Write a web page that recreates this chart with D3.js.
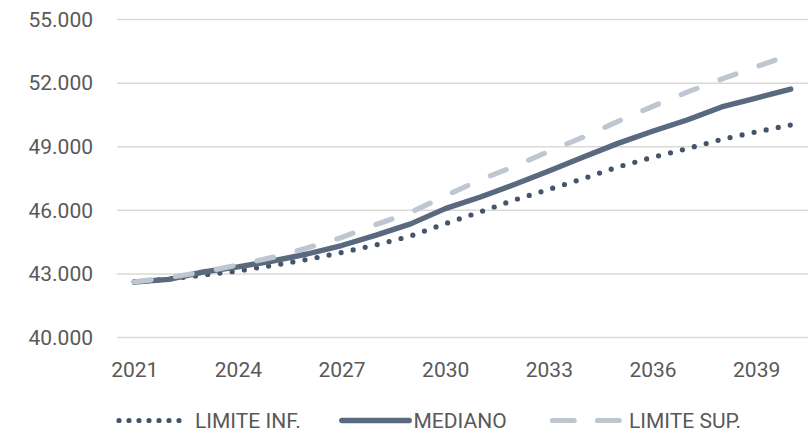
<!DOCTYPE html>
<html>
<head>
<meta charset="utf-8">
<script src="https://cdn.jsdelivr.net/npm/d3@7"></script>
<style>
  body { margin: 0; background: #fff; }
  text { font-family: Roboto, "Noto Sans", sans-serif; fill: #595959; }
</style>
</head>
<body>
<svg id="chart"></svg>
<script>
// values
const years = [2021, 2022, 2023, 2024, 2025, 2026, 2027, 2028, 2029, 2030,
               2031, 2032, 2033, 2034, 2035, 2036, 2037, 2038, 2039, 2040];
const limiteInf = [42620, 42760, 42950, 43140, 43400, 43680, 44010, 44370, 44790, 45370,
                   45920, 46490, 46990, 47500, 48050, 48500, 48910, 49350, 49700, 50030];
const mediano = [42620, 42740, 43090, 43330, 43610, 43940, 44340, 44830, 45360, 46080,
                 46620, 47220, 47860, 48520, 49160, 49730, 50260, 50880, 51300, 51720];
const limiteSup = [42620, 42830, 43090, 43420, 43780, 44220, 44720, 45330, 45900, 46680,
                   47430, 48070, 48780, 49460, 50200, 50900, 51580, 52190, 52780, 53330];
const yTicks = [40000, 43000, 46000, 49000, 52000, 55000];
const xTicks = [2021, 2024, 2027, 2030, 2033, 2036, 2039];
const seriesNames = ['LIMITE INF.', 'MEDIANO', 'LIMITE SUP.'];

const width = 811, height = 433;
const plot = { left: 117, right: 808, top: 19.6, bottom: 337.5 };

const svg = d3.select('#chart')
  .attr('width', width)
  .attr('height', height);

const locale = d3.formatLocale({ decimal: ',', thousands: '.', grouping: [3], currency: ['', ''] });
const fmt = locale.format(',.0f');

const x = d3.scalePoint()
  .domain(years)
  .range([plot.left, plot.right])
  .padding(0.5);

const y = d3.scaleLinear()
  .domain([40000, 55000])
  .range([plot.bottom, plot.top]);

// grid
svg.append('g')
  .selectAll('line')
  .data(yTicks)
  .enter()
  .append('line')
  .attr('x1', plot.left)
  .attr('x2', plot.right)
  .attr('y1', d => y(d))
  .attr('y2', d => y(d))
  .attr('stroke', '#d9d9d9')
  .attr('stroke-width', 1.5);

// y axis labels
const yAxis = svg.append('g')
  .attr('transform', `translate(${plot.left - 24},0)`)
  .call(d3.axisLeft(y).tickValues(yTicks).tickFormat(fmt).tickSize(0).tickPadding(0));
yAxis.select('.domain').remove();
yAxis.selectAll('text')
  .style('font-size', '21px')
  .attr('fill', '#595959');

// x axis labels
const xAxis = svg.append('g')
  .attr('transform', `translate(0,${plot.bottom})`)
  .call(d3.axisBottom(x).tickValues(xTicks).tickSize(0).tickPadding(0));
xAxis.select('.domain').remove();
xAxis.selectAll('text')
  .style('font-size', '21px')
  .attr('fill', '#595959')
  .attr('dy', null)
  .attr('y', 39.2);

const line = d3.line()
  .x((d, i) => x(years[i]))
  .y(d => y(d));

const styles = [
  { data: limiteInf, color: '#44546a', w: 5.2, dash: '0 12.3', legendDash: '0 10' },
  { data: mediano, color: '#5a6a7e', w: 5.4, dash: null, legendDash: null },
  { data: limiteSup, color: '#bec7d1', w: 5.2, dash: '17 24.5', legendDash: '21.7 23.3' }
];

styles.forEach(s => {
  svg.append('path')
    .datum(s.data)
    .attr('d', line)
    .attr('fill', 'none')
    .attr('stroke', s.color)
    .attr('stroke-width', s.w)
    .attr('stroke-linecap', 'round')
    .attr('stroke-linejoin', 'round')
    .attr('stroke-dasharray', s.dash);
});

// legend
const legendItems = [
  { x1: 119, x2: 180, tx: 195 },
  { x1: 341.8, x2: 409.2, tx: 413.5 },
  { x1: 552.5, x2: 619.2, tx: 629 }
];
const legend = svg.append('g');
legendItems.forEach((it, i) => {
  legend.append('line')
    .attr('x1', it.x1)
    .attr('x2', it.x2)
    .attr('y1', 420.5)
    .attr('y2', 420.5)
    .attr('stroke', styles[i].color)
    .attr('stroke-width', styles[i].w)
    .attr('stroke-linecap', 'round')
    .attr('stroke-dasharray', styles[i].legendDash);
  legend.append('text')
    .attr('x', it.tx)
    .attr('y', 427.5)
    .style('font-size', '21px')
    .text(seriesNames[i]);
});
</script>
</body>
</html>
